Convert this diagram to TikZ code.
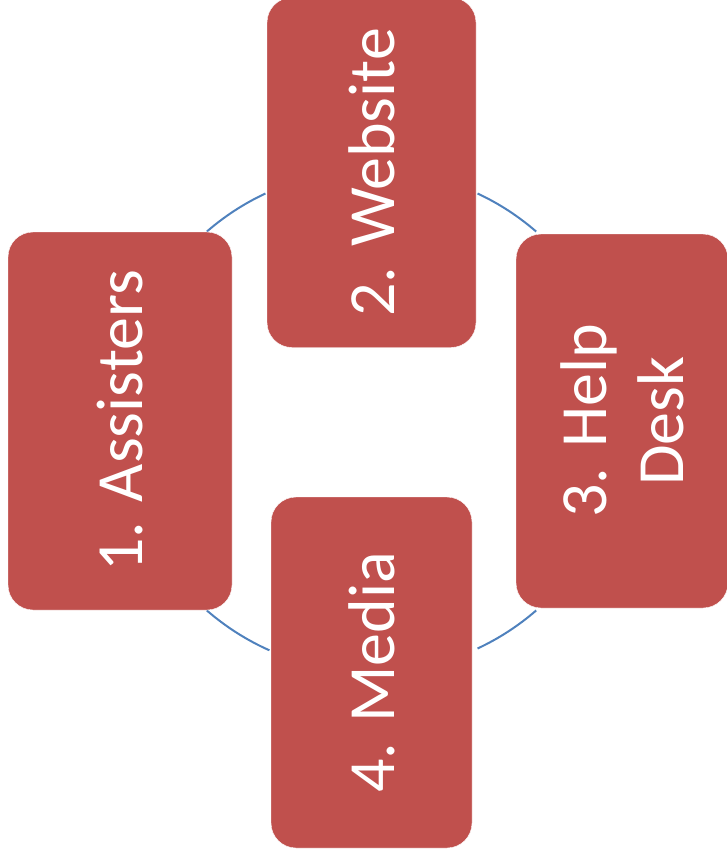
\documentclass[tikz,border=0pt]{standalone}
\usepackage{fontspec}
\setmainfont{Carlito}
\usetikzlibrary{
  positioning,
  calc,
}
\definecolor{boxred}{HTML}{C0504D}
\definecolor{arcblue}{HTML}{4F81BD}
\def\myradius{251pt}
\tikzset{
  font=\fontsize{66}{77}\selectfont,
  my box/.style={
    rectangle,
    rounded corners=25pt,
    fill=boxred,
    draw=white,
    thin,
    text=white,
    rotate=90,
    align=center,
    inner sep=0pt
  },
  my arc/.style={
    draw=arcblue,
    line width=2pt
  }
}
\begin{document}
\begin{tikzpicture}[x=1pt,y=-1pt]
\useasboundingbox (0,0) rectangle (727,860);
\coordinate (c) at (371.5,421);
% arcs of the cycle, behind the boxes
\draw[my arc] (c) ++(115:\myradius) arc[start angle=115, end angle=131, radius=\myradius];
\draw[my arc] (c) ++(49:\myradius) arc[start angle=49, end angle=65, radius=\myradius];
\draw[my arc] (c) ++(229:\myradius) arc[start angle=229, end angle=246, radius=\myradius];
\draw[my arc] (c) ++(295:\myradius) arc[start angle=295, end angle=311, radius=\myradius];
% the four steps
\node[my box, minimum width=378pt, minimum height=224pt] (assisters) at (120,421) {1. Assisters};
\node[my box, minimum width=350pt, minimum height=209pt] (website) at (371.5,172.5) {2. Website};
\node[my box, minimum width=374pt, minimum height=212pt] (helpdesk) at (622,421) {3. Help\\Desk};
\node[my box, minimum width=351pt, minimum height=201pt] (media) at (371.5,672.5) {4. Media};
\end{tikzpicture}
\end{document}
